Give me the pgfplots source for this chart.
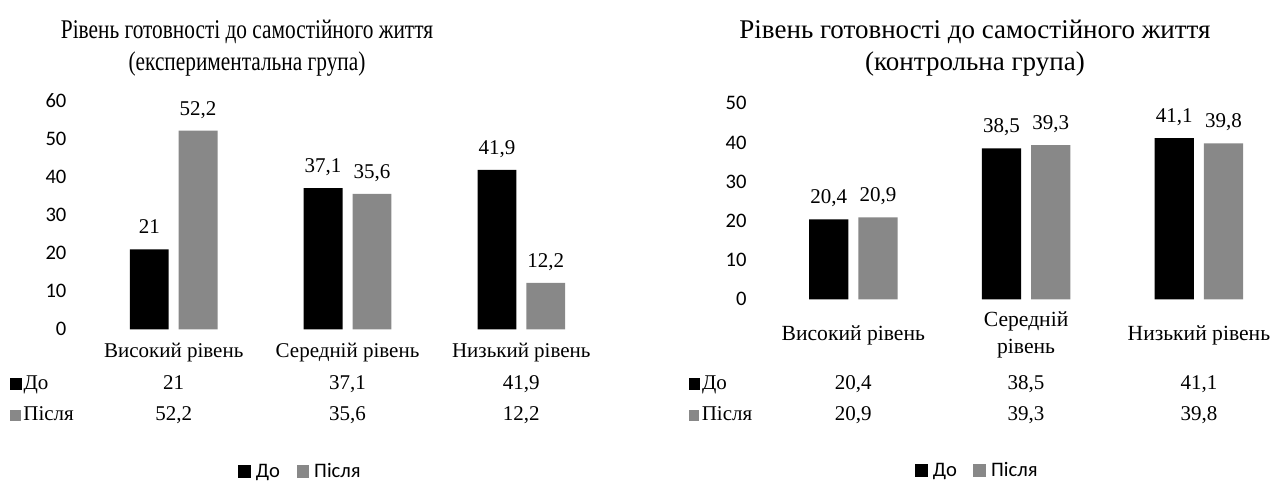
\documentclass[border=0pt]{standalone}
\usepackage{pgfplots}
\pgfplotsset{compat=1.18}
\usepackage{fontspec}
\setmainfont{Liberation Serif}
\newfontfamily\carlito{Carlito}
\newfontfamily\condserif[FakeStretch=0.79]{Liberation Serif}
\definecolor{barGray}{RGB}{136,136,136}

\pgfplotsset{
  sqlegend/.style={legend image code/.code={\fill[##1] (0pt,-3.2pt) rectangle (6.35pt,3.2pt);}},
  mybars/.style={
    ybar=5pt, bar width=19.4pt,
    scale only axis,
    xmin=-0.5, xmax=2.5, ymin=0,
    enlarge x limits=false, enlarge y limits=false,
    xtick={0,1,2},
    axis line style={draw=none},
    major tick length=0pt,
    /pgf/number format/assume math mode=true,
    yticklabel style={font=\carlito\fontsize{10.3}{12}\selectfont, anchor=east, inner sep=0pt, xshift=-10pt},
    point meta=explicit symbolic,
    nodes near coords,
    nodes near coords style={font=\fontsize{10.5}{12}\selectfont, anchor=base, yshift=7.7pt, inner sep=0pt},
    clip=false,
    legend style={draw=none, fill=none, legend columns=-1, anchor=center, inner sep=0pt,
      font=\carlito\fontsize{10.3}{12}\selectfont,
      nodes={inner sep=2.5pt, text height=7.2pt, text depth=1.6pt},
      /tikz/every even column/.append style={column sep=5.8pt}},
    sqlegend,
  }
}

\begin{document}
\begin{tikzpicture}
\fill[white] (0,0) rectangle (641.5pt,-242.5pt);
\path[use as bounding box] (0,0) rectangle (641.5pt,-242.5pt);

% ---------- left chart ----------
\node[anchor=base, font=\condserif\fontsize{13.5}{16}\selectfont] at (123.5pt,-19.1pt) {Рівень готовності до самостійного життя};
\node[anchor=base, font=\condserif\fontsize{13.5}{16}\selectfont] at (123.5pt,-35.4pt) {(експериментальна група)};

\begin{axis}[mybars,
  at={(43.4pt,-164.65pt)}, anchor=south west,
  width=260.7pt, height=114.15pt,
  ymax=60, ytick={0,10,...,60},
  xticklabels={Високий рівень, Середній рівень, Низький рівень},
  xticklabel style={font=\fontsize{10.5}{13}\selectfont, anchor=base, yshift=-14.2pt},
  legend style={at={(0.4127,-0.6237)}},
]
\addplot[fill=black, draw=none, sqlegend] coordinates {(0,21)[21] (1,37.1)[37,1] (2,41.9)[41,9]};
\addplot[fill=barGray, draw=none, sqlegend] coordinates {(0,52.2)[52,2] (1,35.6)[35,6] (2,12.2)[12,2]};
\legend{До, Після}
\end{axis}

% data table (left)
\begin{scope}[every node/.style={font=\fontsize{10.5}{12}\selectfont, inner sep=0pt}]
\node[anchor=base west] at (5pt,-195pt) {\rule{5.8pt}{5.8pt}\hspace{0.8pt}До};
\node[anchor=base west] at (5pt,-210.3pt) {\textcolor{barGray}{\rule{5.3pt}{5.3pt}}\hspace{1.2pt}Після};
\node[anchor=base] at (86.85pt,-195pt) {21};
\node[anchor=base] at (173.75pt,-195pt) {37,1};
\node[anchor=base] at (260.65pt,-195pt) {41,9};
\node[anchor=base] at (86.85pt,-210.3pt) {52,2};
\node[anchor=base] at (173.75pt,-210.3pt) {35,6};
\node[anchor=base] at (260.65pt,-210.3pt) {12,2};
\end{scope}

% ---------- right chart ----------
\node[anchor=base, font=\fontsize{13.5}{16}\selectfont] at (487.5pt,-19.1pt) {Рівень готовності до самостійного життя};
\node[anchor=base, font=\fontsize{13.5}{16}\selectfont] at (487.5pt,-35.4pt) {(контрольна група)};

\begin{axis}[mybars,
  at={(383.45pt,-149.65pt)}, anchor=south west,
  width=259.2pt, height=98pt,
  ymax=50, ytick={0,10,...,50},
  bar width=19.65pt,
  xticklabels={Високий рівень, {Середній\\рівень}, Низький рівень},
  xticklabel style={font=\fontsize{10.8}{13.35}\selectfont, align=center, anchor=center, yshift=-17.85pt},
  legend style={at={(0.409,-0.875)}},
]
\addplot[fill=black, draw=none, sqlegend] coordinates {(0,20.4)[20,4] (1,38.5)[38,5] (2,41.1)[41,1]};
\addplot[fill=barGray, draw=none, sqlegend] coordinates {(0,20.9)[20,9] (1,39.3)[39,3] (2,39.8)[39,8]};
\legend{До, Після}
\end{axis}

% data table (right)
\begin{scope}[every node/.style={font=\fontsize{10.5}{12}\selectfont, inner sep=0pt}]
\node[anchor=base west] at (344.2pt,-195pt) {\rule{5.8pt}{5.8pt}\hspace{0.8pt}До};
\node[anchor=base west] at (344.2pt,-210.3pt) {\textcolor{barGray}{\rule{5.3pt}{5.3pt}}\hspace{1.2pt}Після};
\node[anchor=base] at (426.65pt,-195pt) {20,4};
\node[anchor=base] at (513.05pt,-195pt) {38,5};
\node[anchor=base] at (599.45pt,-195pt) {41,1};
\node[anchor=base] at (426.65pt,-210.3pt) {20,9};
\node[anchor=base] at (513.05pt,-210.3pt) {39,3};
\node[anchor=base] at (599.45pt,-210.3pt) {39,8};
\end{scope}
\end{tikzpicture}
\end{document}
